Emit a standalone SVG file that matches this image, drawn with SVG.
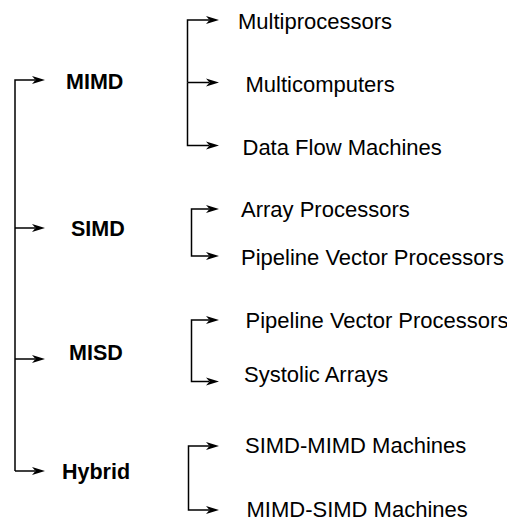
<svg xmlns="http://www.w3.org/2000/svg" xmlns:xlink="http://www.w3.org/1999/xlink" width="507" height="520" viewBox="0 0 507 520">
<style>
.l{fill:none;stroke:#000;stroke-width:1.5}
.b{font-family:"Liberation Sans",Arial,sans-serif;font-weight:bold;font-size:21.5px;fill:#000}
.t{font-family:"Liberation Sans",Arial,sans-serif;font-size:22px;fill:#000}
</style>
<defs>
<path id="ah" d="M-13,-4 L0,0 L-13,4 L-9.5,0 Z" fill="#000"/>
</defs>
<rect width="507" height="520" fill="#fff"/>
<g id="connectors">
<path class="l" d="M15,471 V80 H35"/>
<path class="l" d="M15,228 H35"/>
<path class="l" d="M15,359 H35"/>
<path class="l" d="M15,471 H35"/>
<path class="l" d="M187.5,82.5 V20 H209"/>
<path class="l" d="M187.5,82.5 H209"/>
<path class="l" d="M187.5,82.5 V145.5 H209"/>
<path class="l" d="M191.5,232 V209 H209"/>
<path class="l" d="M191.5,232 V256 H209"/>
<path class="l" d="M191.5,350 V320 H209"/>
<path class="l" d="M191.5,350 V381.5 H209"/>
<path class="l" d="M188.5,478 V446 H209"/>
<path class="l" d="M188.5,478 V510 H209"/>
<use xlink:href="#ah" x="45" y="80"/>
<use xlink:href="#ah" x="45" y="228"/>
<use xlink:href="#ah" x="45" y="359"/>
<use xlink:href="#ah" x="45" y="471"/>
<use xlink:href="#ah" x="219" y="20"/>
<use xlink:href="#ah" x="219" y="82.5"/>
<use xlink:href="#ah" x="219" y="145.5"/>
<use xlink:href="#ah" x="219" y="209"/>
<use xlink:href="#ah" x="219" y="256"/>
<use xlink:href="#ah" x="219" y="320"/>
<use xlink:href="#ah" x="219" y="381.5"/>
<use xlink:href="#ah" x="219" y="446"/>
<use xlink:href="#ah" x="219" y="510"/>
</g>
<g id="mimd"><text class="b" x="66" y="89">MIMD</text></g>
<g id="simd"><text class="b" x="71" y="236">SIMD</text></g>
<g id="misd"><text class="b" x="69" y="360">MISD</text></g>
<g id="hybrid"><text class="b" x="62" y="479">Hybrid</text></g>
<g id="multiprocessors"><text class="t" x="238" y="29">Multiprocessors</text></g>
<g id="multicomputers"><text class="t" x="245.5" y="92">Multicomputers</text></g>
<g id="dataflow"><text class="t" x="242.5" y="155">Data Flow Machines</text></g>
<g id="array"><text class="t" x="241" y="217">Array Processors</text></g>
<g id="pvp1"><text class="t" x="241" y="265">Pipeline Vector Processors</text></g>
<g id="pvp2"><text class="t" x="245.5" y="328">Pipeline Vector Processors</text></g>
<g id="systolic"><text class="t" x="244" y="382">Systolic Arrays</text></g>
<g id="simdmimd"><text class="t" x="245" y="453">SIMD-MIMD Machines</text></g>
<g id="mimdsimd"><text class="t" x="246.5" y="516.5">MIMD-SIMD Machines</text></g>
</svg>
